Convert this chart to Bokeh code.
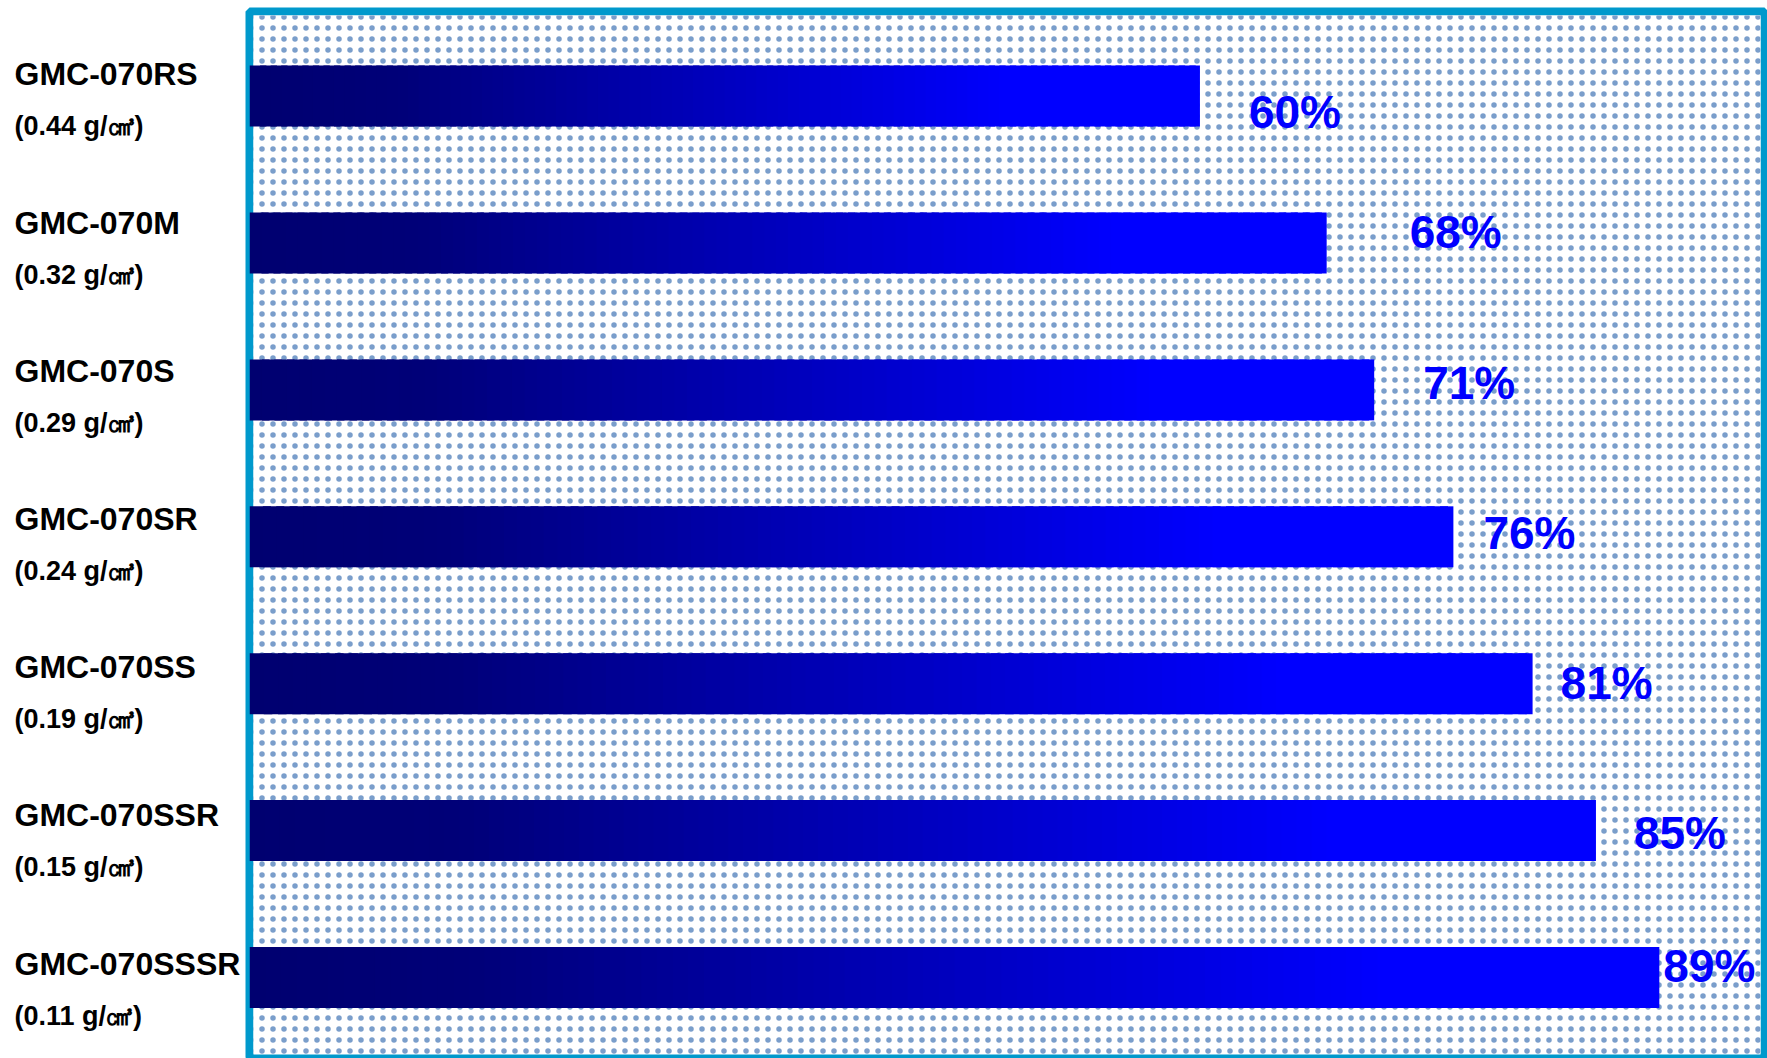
from bokeh.plotting import figure
from bokeh.layouts import row
from bokeh.models import ColumnDataSource, Range1d, LabelSet, BoxAnnotation
from bokeh.core.properties import value
from bokeh.embed import file_html
from bokeh.resources import INLINE

# ---- data ----
names = ["GMC-070RS", "GMC-070M", "GMC-070S", "GMC-070SR", "GMC-070SS", "GMC-070SSR", "GMC-070SSSR"]
densities = ["(0.44 g/㎤)", "(0.32 g/㎤)", "(0.29 g/㎤)", "(0.24 g/㎤)", "(0.19 g/㎤)", "(0.15 g/㎤)", "(0.11 g/㎤)"]
values = [60, 68, 71, 76, 81, 85, 89]
value_labels = [f"{v}%" for v in values]

# ---- styling (label placement offsets in px) ----
pct_dx = [49, 83, 49, 30, 28, 38, 4]
pct_dy = [-16, 11, 7, 4, 1, -2, 11]

ypos = list(range(len(names)))
FONT = value("Liberation Sans")

# ---------------- left label panel ----------------
lf = figure(width=245, height=1058, x_range=Range1d(0, 245), y_range=Range1d(6.64, -0.425),
            output_backend="svg", toolbar_location=None,
            min_border_left=0, min_border_right=0, min_border_top=11, min_border_bottom=0)
lf.extra_y_ranges = {"dens": Range1d(6.29, -0.775)}
lf.xaxis.visible = False
lf.yaxis.visible = False
lf.grid.visible = False
lf.outline_line_color = None
lf.background_fill_color = "white"
lf.border_fill_color = "white"

lsrc = ColumnDataSource(dict(x=[14] * len(names), y=ypos, n=names, d=densities))
lf.text(x="x", y="y", text="n", source=lsrc, text_font=FONT, text_font_style="bold",
        text_font_size="32px", text_color="black", text_align="left", text_baseline="middle")
lf.text(x="x", y="y", text="d", source=lsrc, y_range_name="dens", text_font=FONT,
        text_font_style="bold", text_font_size="27px", text_color="black",
        text_align="left", text_baseline="middle")

# ---------------- main chart ----------------
XMAX = 95.64
p = figure(width=1522, height=1058,
           x_range=Range1d(0, XMAX), y_range=Range1d(6.5514, -0.5759),
           output_backend="svg", toolbar_location=None,
           min_border_left=4, min_border_right=3, min_border_top=11, min_border_bottom=0)
p.xaxis.visible = False
p.yaxis.visible = False
p.grid.visible = False
p.outline_line_color = "#0099cc"
p.outline_line_width = 8
p.background_fill_color = "white"
p.border_fill_color = "white"

# dotted background texture, inset so the full frame border stays visible
p.add_layout(BoxAnnotation(left=0.2525, right=XMAX - 0.2525, top=-0.5487, bottom=6.524,
                           fill_color="white", fill_alpha=1.0, line_color=None,
                           hatch_pattern="dot", hatch_color="#7a9ecb", hatch_scale=11,
                           hatch_weight=1.8, level="underlay"))

# gradient bars: each bar is split into slices coloured from navy to blue
N = 90
def grad(t):
    if t < 0.15:
        b = 0x70 + (0x78 - 0x70) * t / 0.15
    elif t < 0.8:
        b = 0x78 + (0xff - 0x78) * (t - 0.15) / 0.65
    else:
        b = 0xff
    return "#0000%02x" % int(round(b))

L, R, Y, C = [], [], [], []
for y, v in zip(ypos, values):
    for j in range(N):
        L.append(v * j / N)
        R.append(min(v * (j + 1.6) / N, v))
        Y.append(y)
        C.append(grad(j / N))
p.hbar(y="y", left="l", right="r", height=0.415, fill_color="c", line_color=None,
       source=ColumnDataSource(dict(y=Y, l=L, r=R, c=C)))

# percentage labels
src = ColumnDataSource(dict(x=values, y=ypos, t=value_labels, dx=pct_dx, dy=pct_dy))
p.add_layout(LabelSet(x="x", y="y", text="t", source=src, x_offset="dx", y_offset="dy",
                      text_font=FONT, text_font_style="bold",
                      text_font_size="46px", text_color="#0000ff",
                      text_align="left", text_baseline="middle"))

layout = row(lf, p, spacing=0)
open("out.html", "w").write(file_html(layout, INLINE))
